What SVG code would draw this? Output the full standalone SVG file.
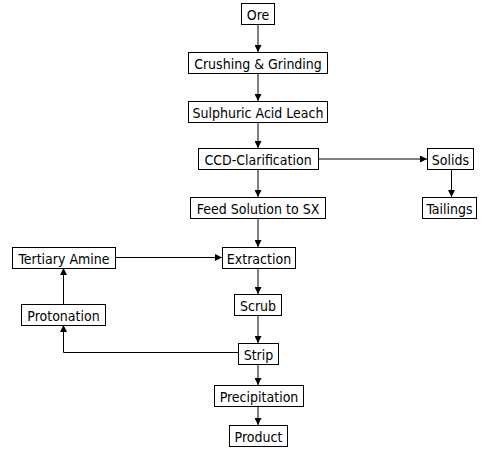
<svg xmlns="http://www.w3.org/2000/svg" width="481" height="451" viewBox="0 0 481 451">
  <style>
    .box { fill: #ffffff; stroke: #000000; stroke-width: 1; }
    .lbl { font-family: "DejaVu Sans Condensed", "DejaVu Sans", Tahoma, sans-serif; font-size: 14px; fill: #000000; text-anchor: middle; }
    .edge { fill: none; stroke: #000000; stroke-width: 1; marker-end: url(#arrow); }
  </style>
  <defs>
    <marker id="arrow" viewBox="0 0 10 10" refX="10" refY="5" markerWidth="7" markerHeight="7" markerUnits="userSpaceOnUse" orient="auto">
      <path d="M0,0 L10,5 L0,10 Z" fill="#000000"/>
    </marker>
  </defs>

  <g id="connectors">
    <path class="edge" d="M258,24 V52"/>
    <path class="edge" d="M258,73 V101"/>
    <path class="edge" d="M258,122 V148"/>
    <path class="edge" d="M318,159 H427"/>
    <path class="edge" d="M451.5,169 V197"/>
    <path class="edge" d="M258,169 V197"/>
    <path class="edge" d="M258,218 V247"/>
    <path class="edge" d="M115,257.5 H222"/>
    <path class="edge" d="M258,268 V294"/>
    <path class="edge" d="M258,315 V343"/>
    <path class="edge" d="M238,352.5 H63.5 V325"/>
    <path class="edge" d="M63.5,304 V268"/>
    <path class="edge" d="M258,364 V385"/>
    <path class="edge" d="M258,406 V425"/>
  </g>

  <g id="ore"><rect class="box" x="241.5" y="3.5" width="33" height="21"/><text class="lbl" x="258" y="19.5">Ore</text></g>
  <g id="crushing"><rect class="box" x="188.5" y="52.5" width="139" height="21"/><text class="lbl" x="258" y="68.5">Crushing &amp; Grinding</text></g>
  <g id="leach"><rect class="box" x="188.5" y="101.5" width="139" height="21"/><text class="lbl" x="258" y="117.5">Sulphuric Acid Leach</text></g>
  <g id="ccd"><rect class="box" x="198.5" y="148.5" width="120" height="21"/><text class="lbl" x="258" y="164.5">CCD-Clarification</text></g>
  <g id="solids"><rect class="box" x="427.5" y="148.5" width="46" height="21"/><text class="lbl" x="450.5" y="164.5">Solids</text></g>
  <g id="feed"><rect class="box" x="190.5" y="197.5" width="135" height="21"/><text class="lbl" x="258" y="213.5">Feed Solution to SX</text></g>
  <g id="tailings"><rect class="box" x="422.5" y="197.5" width="54" height="21"/><text class="lbl" x="449.5" y="213.5">Tailings</text></g>
  <g id="amine"><rect class="box" x="12.5" y="247.5" width="103" height="21"/><text class="lbl" x="64" y="263.5">Tertiary Amine</text></g>
  <g id="extraction"><rect class="box" x="222.5" y="247.5" width="73" height="21"/><text class="lbl" x="259" y="263.5">Extraction</text></g>
  <g id="scrub"><rect class="box" x="234.5" y="294.5" width="47" height="21"/><text class="lbl" x="258" y="310.5">Scrub</text></g>
  <g id="protonation"><rect class="box" x="21.5" y="304.5" width="84" height="21"/><text class="lbl" x="63.5" y="320.5">Protonation</text></g>
  <g id="strip"><rect class="box" x="238.5" y="343.5" width="40" height="21"/><text class="lbl" x="258.5" y="359.5">Strip</text></g>
  <g id="precipitation"><rect class="box" x="214.5" y="385.5" width="89" height="21"/><text class="lbl" x="259" y="401.5">Precipitation</text></g>
  <g id="product"><rect class="box" x="229.5" y="425.5" width="58" height="21"/><text class="lbl" x="258.5" y="441.5">Product</text></g>
</svg>
